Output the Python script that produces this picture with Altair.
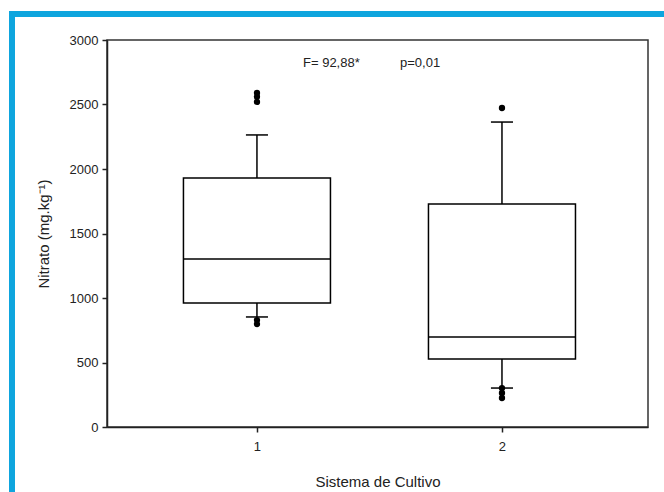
import altair as alt
import pandas as pd

# ---- data ----
sistema = [1, 2]
q1 = [961, 527]
median = [1302, 698]
q3 = [1930, 1729]
whisker_low = [853, 302]
whisker_high = [2264, 2364]
outlier_sistema = [1, 1, 1, 1, 1, 2, 2, 2, 2]
outlier_values = [2590, 2560, 2520, 829, 798, 2473, 302, 264, 225]
annot_text = ["F= 92,88*", "p=0,01"]
annot_x = [1.188, 1.584]
annot_y = [2822, 2822]

box_df = pd.DataFrame({
    "sistema": sistema, "q1": q1, "median": median, "q3": q3,
    "lo": whisker_low, "hi": whisker_high,
})
out_df = pd.DataFrame({"sistema": outlier_sistema, "valor": outlier_values})
ann_df = pd.DataFrame({"t": annot_text, "x": annot_x, "y": annot_y})

FONT = "Liberation Sans"
xscale = alt.Scale(domain=[0.388, 2.596], nice=False, zero=False)
yscale = alt.Scale(domain=[0, 3000], nice=False)

xaxis = alt.Axis(values=[1, 2], format="d", title="Sistema de Cultivo",
                 tickSize=5, labelPadding=8, titlePadding=21)
yaxis = alt.Axis(values=[0, 500, 1000, 1500, 2000, 2500, 3000], format="d",
                 title="Nitrato (mg.kg⁻¹)", tickSize=5, labelPadding=4, titlePadding=18)

base = alt.Chart(box_df)

whisk = base.mark_rule(color="black", strokeWidth=1.5).encode(
    x=alt.X("sistema:Q", scale=xscale, axis=xaxis),
    y=alt.Y("lo:Q", scale=yscale, axis=yaxis),
    y2="hi:Q",
)

caps_lo = base.transform_calculate(a="datum.sistema - 0.045", b="datum.sistema + 0.045").mark_rule(
    color="black", strokeWidth=1.5).encode(x="a:Q", x2="b:Q", y="lo:Q")
caps_hi = base.transform_calculate(a="datum.sistema - 0.045", b="datum.sistema + 0.045").mark_rule(
    color="black", strokeWidth=1.5).encode(x="a:Q", x2="b:Q", y="hi:Q")

box = base.transform_calculate(a="datum.sistema - 0.3", b="datum.sistema + 0.3").mark_rect(
    fill="white", stroke="black", strokeWidth=1.5).encode(x="a:Q", x2="b:Q", y="q1:Q", y2="q3:Q")

med = base.transform_calculate(a="datum.sistema - 0.3", b="datum.sistema + 0.3").mark_rule(
    color="black", strokeWidth=1.5).encode(x="a:Q", x2="b:Q", y="median:Q")

outs = alt.Chart(out_df).mark_circle(color="black", size=40, opacity=1).encode(
    x="sistema:Q", y="valor:Q")

ann = alt.Chart(ann_df).mark_text(align="left", baseline="middle", font=FONT,
                                   fontSize=13, color="#222").encode(
    x="x:Q", y="y:Q", text="t:N")

frame_left = alt.Chart(box_df).mark_rule(color="#0EA5DE", strokeWidth=6, clip=False).encode(
    x=alt.value(-95), y=alt.value(-29), y2=alt.value(500))
frame_top = alt.Chart(box_df).mark_rule(color="#0EA5DE", strokeWidth=6, clip=False).encode(
    x=alt.value(-98), x2=alt.value(700), y=alt.value(-26))

chart = alt.layer(whisk, caps_lo, caps_hi, box, med, outs, ann, frame_left, frame_top).properties(
    width=541, height=387,
    autosize=alt.AutoSizeParams(type="none"),
    padding={"left": 107, "top": 40, "right": 16, "bottom": 65},
    background="white",
).configure_view(
    stroke="#333", strokeWidth=1.5
).configure_axis(
    grid=False, domainColor="#222", domainWidth=1.5, tickColor="#222", tickWidth=1.5,
    labelFont=FONT, labelFontSize=13, labelColor="#222",
    titleFont=FONT, titleFontSize=15, titleFontWeight="normal", titleColor="#222",
)

chart.save("out.html", embed_options={"renderer": "svg", "actions": False})
